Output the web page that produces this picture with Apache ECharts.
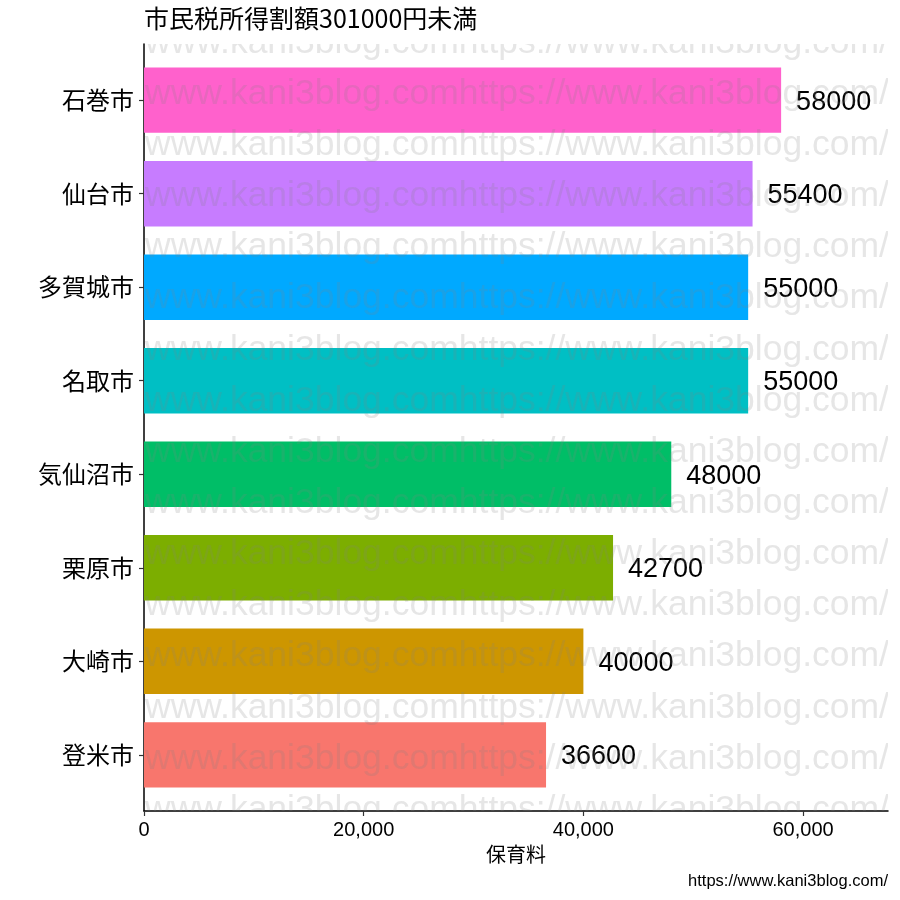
<!DOCTYPE html>
<html>
<head>
<meta charset="utf-8">
<title>市民税所得割額301000円未満</title>
<script src="https://cdn.jsdelivr.net/npm/echarts@6/dist/echarts.min.js"></script>
<style>
  html, body { margin: 0; padding: 0; background: #fff; }
  #chart { width: 900px; height: 900px; }
</style>
</head>
<body>
<div id="chart"></div>
<script>
// Monthly nursery fee for the income band, by city (bottom to top)
const cities = ['登米市', '大崎市', '栗原市', '気仙沼市', '名取市', '多賀城市', '仙台市', '石巻市'];
const fees = [36600, 40000, 42700, 48000, 55000, 55000, 55400, 58000];
const barColors = ['#F8766D', '#CD9600', '#7CAE00', '#00BE67', '#00BFC4', '#00A9FF', '#C77CFF', '#FF61CC'];
const xTicks = [0, 20000, 40000, 60000];

const titleText = '市民税所得割額301000円未満';
const axisTitle = '保育料';
const siteUrl = 'https://www.kani3blog.com/';
const stampText = 'www.kani3blog.comhttps://www.kani3blog.com/';
const stampRows = 16;

const LATIN = '"Liberation Sans", "Noto Sans CJK JP", sans-serif';
const CJK = '"Noto Sans CJK JP", "Liberation Sans", sans-serif';

// panel geometry
const PANEL = { left: 144, right: 12, top: 44, bottom: 89 };
const panelH = 900 - PANEL.top - PANEL.bottom;
const band = panelH / (cities.length + 0.2);
const pad = band * 0.1;
const xMax = 67730;

const rowIdx = [];
for (let i = 0; i < stampRows; i++) rowIdx.push(i);

const chart = echarts.init(document.getElementById('chart'), null, { renderer: 'canvas' });

chart.setOption({
  backgroundColor: '#ffffff',
  animation: false,
  title: {
    text: titleText,
    left: 144,
    top: 6,
    padding: 0,
    textStyle: { fontFamily: CJK, fontSize: 25, fontWeight: 'normal', color: '#000' }
  },
  graphic: [{
    type: 'text',
    right: 12,
    top: 873,
    style: { text: siteUrl, font: '16.5px ' + LATIN, fill: '#000' }
  }],
  grid: [
    { left: PANEL.left, right: PANEL.right, top: PANEL.top, bottom: PANEL.bottom },
    { left: PANEL.left, right: PANEL.right, top: PANEL.top + pad, bottom: PANEL.bottom + pad }
  ],
  xAxis: [{
    gridIndex: 0,
    type: 'value',
    min: 0,
    max: xMax,
    name: axisTitle,
    nameLocation: 'middle',
    nameGap: 31,
    nameTextStyle: { fontFamily: CJK, fontSize: 20, color: '#000' },
    axisLine: { show: true, lineStyle: { color: '#000', width: 1.5 } },
    axisTick: { show: true, length: 5, customValues: xTicks, lineStyle: { color: '#333', width: 1.2 } },
    axisLabel: {
      customValues: xTicks,
      margin: 9,
      fontFamily: LATIN,
      fontSize: 20,
      color: '#000',
      formatter: v => v.toLocaleString('en-US')
    },
    splitLine: { show: false }
  }, {
    gridIndex: 1,
    type: 'value',
    min: 0,
    max: xMax,
    show: false
  }],
  yAxis: [{
    gridIndex: 0,
    type: 'value',
    min: 0,
    max: 1,
    axisLine: { show: true, lineStyle: { color: '#000', width: 1.5 } },
    axisTick: { show: false },
    axisLabel: { show: false },
    splitLine: { show: false }
  }, {
    gridIndex: 1,
    type: 'category',
    data: cities,
    axisLine: { show: false },
    axisTick: { show: true, alignWithLabel: true, length: 5, lineStyle: { color: '#333', width: 1.2 } },
    axisLabel: { margin: 10, fontFamily: CJK, fontSize: 24, color: '#000' },
    splitLine: { show: false }
  }],
  series: [{
    type: 'bar',
    xAxisIndex: 1,
    yAxisIndex: 1,
    barWidth: '70%',
    z: 2,
    data: fees.map((v, i) => ({ value: v, itemStyle: { color: barColors[i] } })),
    label: {
      show: true,
      position: 'right',
      distance: 15,
      offset: [0, 2],
      fontFamily: LATIN,
      fontSize: 27,
      color: '#000'
    }
  }, {
    // repeated site stamp across the panel
    type: 'custom',
    xAxisIndex: 0,
    yAxisIndex: 0,
    clip: true,
    z: 5,
    silent: true,
    data: rowIdx,
    renderItem: function (params, api) {
      const i = api.value(0);
      const frac = 1 - i / (stampRows - 1);
      const pt = api.coord([xMax / 2, frac]);
      return {
        type: 'text',
        x: pt[0] + 1,
        y: pt[1] - 1,
        style: {
          text: stampText,
          font: '35.5px ' + LATIN,
          fill: 'rgba(128,128,128,0.2)',
          align: 'center',
          verticalAlign: 'middle'
        }
      };
    }
  }]
});
</script>
</body>
</html>
